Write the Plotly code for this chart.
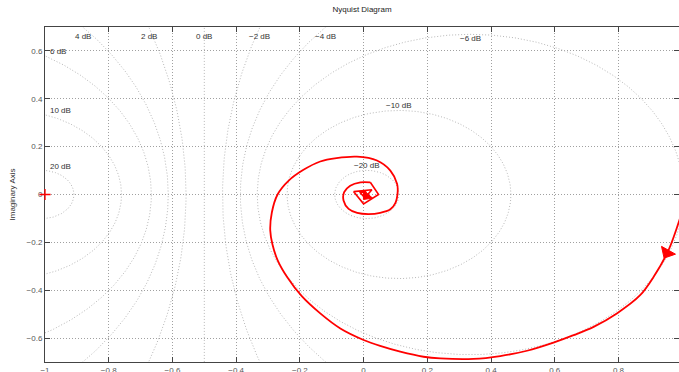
import numpy as np
import plotly.graph_objects as go

# ---------------- data ----------------
db_levels = [-20, -10, -6, -4, -2, 0, 2, 4, 6, 10, 20]

re_vals = [0.993, 0.957, 0.910, 0.868, 0.795, 0.722, 0.659, 0.596, 0.513, 0.429,
           0.345, 0.241, 0.188, 0.115, 0.052, 0.000, -0.073, -0.136, -0.194, -0.240,
           -0.270, -0.286, -0.293, -0.288, -0.270, -0.235, -0.190, -0.136, -0.085, -0.021,
           0.042, 0.084, 0.105, 0.107, 0.100, 0.084, 0.052, 0.015, -0.020, -0.047,
           -0.063, -0.061, -0.042, -0.010, 0.021, 0.047, 0.000, -0.031, 0.026, 0.004,
           -0.012, 0.008, 0.000]
im_vals = [-0.100, -0.233, -0.345, -0.421, -0.497, -0.553, -0.588, -0.619, -0.653, -0.675,
           -0.687, -0.685, -0.678, -0.657, -0.633, -0.608, -0.560, -0.497, -0.425, -0.345,
           -0.274, -0.209, -0.150, -0.075, 0.000, 0.058, 0.102, 0.138, 0.152, 0.158,
           0.142, 0.100, 0.045, 0.012, -0.035, -0.062, -0.077, -0.082, -0.077, -0.060,
           -0.025, 0.010, 0.037, 0.051, 0.051, 0.000, -0.039, 0.012, 0.020, -0.014,
           0.010, 0.010, -0.004]

x_ticks = [-1, -0.8, -0.6, -0.4, -0.2, 0, 0.2, 0.4, 0.6, 0.8]
y_ticks = [-0.6, -0.4, -0.2, 0, 0.2, 0.4, 0.6]
critical_point = [-1.0, 0.0]
arrow_at = [1.0, 48.55]   # fractional positions along the curve
smooth_end = 44           # curve is smooth up to this index, then polygonal

# ---------------- layout constants ----------------
W, H = 679, 372
MARG = dict(l=45, r=0, t=27, b=10)
X_RANGE = [-1.0, 0.99]
Y_RANGE = [-0.7, 0.7]
pw = W - MARG["l"] - MARG["r"]
ph = H - MARG["t"] - MARG["b"]
sx = pw / (X_RANGE[1] - X_RANGE[0])
sy = ph / (Y_RANGE[1] - Y_RANGE[0])

FONT = "Liberation Sans, Arial, Helvetica, sans-serif"
RED = "#ff0000"
GRID = "#a0a0a0"
CIRC = "#b8b8b8"
AX = "#444444"

fig = go.Figure()

# ---------------- constant-magnitude (M) circles ----------------
t = np.linspace(0, 2 * np.pi, 900)


def circle(db):
    m = 10 ** (db / 20.0)
    c = -m * m / (m * m - 1)
    r = abs(m / (m * m - 1))
    return c, r


def label_pos(db):
    if db == 0:
        return -0.5, 0.66, "center"
    c, r = circle(db)
    if X_RANGE[0] < c < X_RANGE[1] and r < Y_RANGE[1]:
        return c, min(r + 0.02, 0.65), "center"
    if r > Y_RANGE[1]:
        d = np.sqrt(r * r - Y_RANGE[1] ** 2)
        for xx in (c - d, c + d):
            if X_RANGE[0] < xx < X_RANGE[1]:
                return xx, 0.66, "center"
    yl = np.sqrt(max(r * r - (X_RANGE[0] - c) ** 2, 0))
    return X_RANGE[0] + 0.01, yl + 0.017, "left"


for db in db_levels:
    if db == 0:
        xs, ys = [-0.5, -0.5], [-5, 5]
    else:
        c, r = circle(db)
        xs, ys = c + r * np.cos(t), r * np.sin(t)
    fig.add_trace(go.Scatter(x=xs, y=ys, mode="lines",
                             line=dict(color=CIRC, width=1, dash="1px,2px"),
                             hoverinfo="skip", showlegend=False))
    lx, ly, anc = label_pos(db)
    txt = ("\u2212" + str(-db) if db < 0 else str(db)) + " dB"
    fig.add_annotation(x=lx, y=ly, text=txt, showarrow=False, xanchor=anc,
                       yanchor="middle", font=dict(family=FONT, size=8, color="#333333"))

# ---------------- Nyquist curve ----------------
fig.add_trace(go.Scatter(x=re_vals[:smooth_end + 1], y=im_vals[:smooth_end + 1], mode="lines",
                         line=dict(color=RED, width=1.8, shape="spline", smoothing=0.9),
                         hoverinfo="skip", showlegend=False))
fig.add_trace(go.Scatter(x=re_vals[smooth_end:], y=im_vals[smooth_end:], mode="lines",
                         line=dict(color=RED, width=1.6),
                         hoverinfo="skip", showlegend=False))


def arrow_poly(pos, length=9.0, half=8.0):
    i = int(pos)
    f = pos - i
    x0 = re_vals[i] + f * (re_vals[i + 1] - re_vals[i])
    y0 = im_vals[i] + f * (im_vals[i + 1] - im_vals[i])
    dx = (re_vals[i + 1] - re_vals[i]) * sx
    dy = -(im_vals[i + 1] - im_vals[i]) * sy
    n = np.hypot(dx, dy)
    ux, uy = dx / n, dy / n
    px_pts = [(length * ux, length * uy), (-half * uy, half * ux), (half * uy, -half * ux)]
    xs = [x0 + p[0] / sx for p in px_pts] + [x0 + px_pts[0][0] / sx]
    ys = [y0 - p[1] / sy for p in px_pts] + [y0 - px_pts[0][1] / sy]
    return xs, ys


for k, pos in enumerate(arrow_at):
    ax_, ay_ = arrow_poly(pos) if k == 0 else arrow_poly(pos, 7.0, 6.0)
    fig.add_trace(go.Scatter(x=ax_, y=ay_, mode="lines", fill="toself", fillcolor=RED,
                             line=dict(color=RED, width=1), hoverinfo="skip",
                             showlegend=False))

# critical point
fig.add_trace(go.Scatter(x=[critical_point[0]], y=[critical_point[1]], mode="markers",
                         marker=dict(symbol="cross-thin", size=8, color=RED,
                                     line=dict(color=RED, width=1.3)),
                         cliponaxis=False, hoverinfo="skip", showlegend=False))

axis_common = dict(showline=True, linecolor=AX, linewidth=1, mirror="ticks",
                   ticks="inside", ticklen=5, tickcolor=AX, tickwidth=1,
                   showgrid=True, gridcolor=GRID, gridwidth=1, griddash="1px,2px",
                   zeroline=False, automargin=False, layer="below traces",
                   tickfont=dict(family=FONT, size=8, color="#555555"))

fig.update_layout(
    width=W, height=H, margin=MARG,
    paper_bgcolor="white", plot_bgcolor="white",
    title=dict(text="Nyquist Diagram", x=0.5, xref="paper", xanchor="center",
               y=1 - 9 / H, yref="container", yanchor="middle",
               font=dict(family=FONT, size=8, color="#222222")),
    xaxis=dict(range=X_RANGE, tickvals=x_ticks, **axis_common),
    yaxis=dict(range=Y_RANGE, tickvals=y_ticks, **axis_common),
)

fig.add_annotation(x=-33 / pw, y=0.5, xref="paper", yref="paper", text="Imaginary Axis",
                   textangle=-90, showarrow=False, xanchor="center", yanchor="middle",
                   font=dict(family=FONT, size=8, color="#333333"))

fig.write_html("out.html", config={"displayModeBar": False},
               post_script="document.body.style.margin='0px';")
